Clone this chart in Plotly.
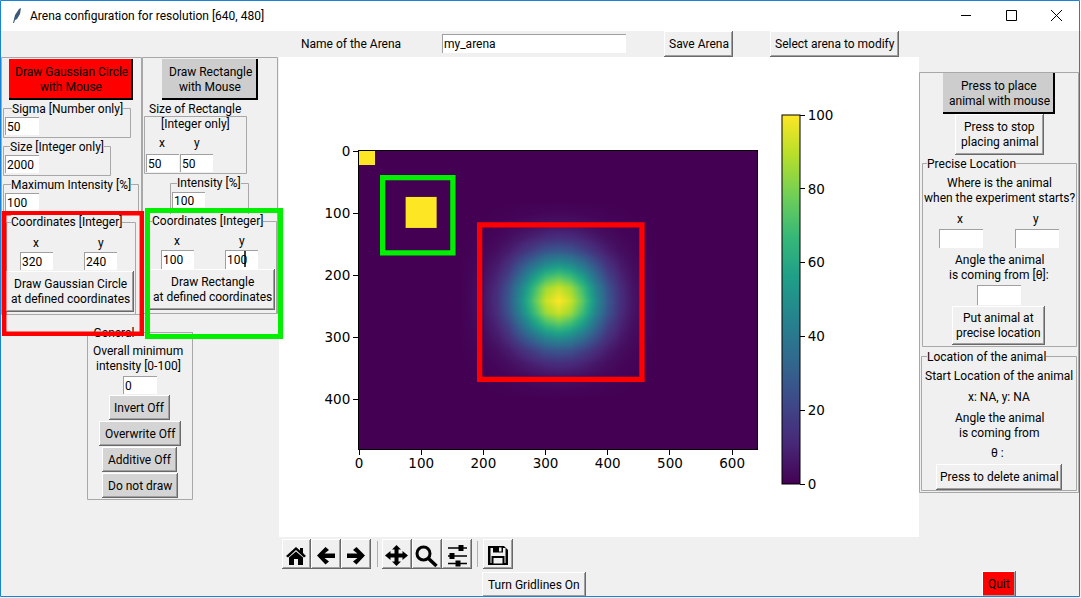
import plotly.graph_objects as go

W, H = 1081, 598
BG = "#f0f0f0"
UI_FONT = "Roboto"

x_ticks = [0, 100, 200, 300, 400, 500, 600]
y_ticks = [0, 100, 200, 300, 400]
bar_ticks = [0, 20, 40, 60, 80, 100]

arena_x = [0, 640]
arena_y = [0, 480]
arena_z = [[0]]

corner_x = [0, 25]
corner_y = [0, 23]
square_x = [75, 125]
square_y = [74, 124]
square_z = [[100]]

red_box_x = [194, 455]
red_box_y = [119, 368]
green_box_x = [38, 151]
green_box_y = [43, 164]

gauss_x = [160, 180, 200, 220, 240, 260, 280, 300, 320, 340, 360, 380, 400, 420, 440, 460, 480]
gauss_y = [80, 100, 120, 140, 160, 180, 200, 220, 240, 260, 280, 300, 320, 340, 360, 380, 400]
gauss_z = [
    [0, 0, 0, 0, 0, 0, 0, 0, 0, 0, 0, 0, 0, 0, 0, 0, 0],
    [0, 0, 0.1, 0.3, 0.5, 1, 1.4, 1.8, 2, 1.8, 1.4, 1, 0.5, 0.3, 0.1, 0, 0],
    [0, 0.1, 0.3, 0.8, 1.6, 2.7, 4.1, 5.2, 5.6, 5.2, 4.1, 2.7, 1.6, 0.8, 0.3, 0.1, 0],
    [0, 0.3, 0.8, 1.8, 3.8, 6.6, 9.8, 12.5, 13.5, 12.5, 9.8, 6.6, 3.8, 1.8, 0.8, 0.3, 0],
    [0, 0.5, 1.6, 3.8, 7.7, 13.5, 20, 26, 28, 26, 20, 13.5, 7.7, 3.8, 1.6, 0.5, 0],
    [0, 1, 2.7, 6.6, 13.5, 24, 35, 45, 49, 45, 35, 24, 13.5, 6.6, 2.7, 1, 0],
    [0, 1.4, 4.1, 9.8, 20, 35, 53, 67, 73, 67, 53, 35, 20, 9.8, 4.1, 1.4, 0],
    [0, 1.8, 5.2, 12.5, 26, 45, 67, 85, 92, 85, 67, 45, 26, 12.5, 5.2, 1.8, 0],
    [0, 2, 5.6, 13.5, 28, 49, 73, 92, 100, 92, 73, 49, 28, 13.5, 5.6, 2, 0],
    [0, 1.8, 5.2, 12.5, 26, 45, 67, 85, 92, 85, 67, 45, 26, 12.5, 5.2, 1.8, 0],
    [0, 1.4, 4.1, 9.8, 20, 35, 53, 67, 73, 67, 53, 35, 20, 9.8, 4.1, 1.4, 0],
    [0, 1, 2.7, 6.6, 13.5, 24, 35, 45, 49, 45, 35, 24, 13.5, 6.6, 2.7, 1, 0],
    [0, 0.5, 1.6, 3.8, 7.7, 13.5, 20, 26, 28, 26, 20, 13.5, 7.7, 3.8, 1.6, 0.5, 0],
    [0, 0.3, 0.8, 1.8, 3.8, 6.6, 9.8, 12.5, 13.5, 12.5, 9.8, 6.6, 3.8, 1.8, 0.8, 0.3, 0],
    [0, 0.1, 0.3, 0.8, 1.6, 2.7, 4.1, 5.2, 5.6, 5.2, 4.1, 2.7, 1.6, 0.8, 0.3, 0.1, 0],
    [0, 0, 0.1, 0.3, 0.5, 1, 1.4, 1.8, 2, 1.8, 1.4, 1, 0.5, 0.3, 0.1, 0, 0],
    [0, 0, 0, 0, 0, 0, 0, 0, 0, 0, 0, 0, 0, 0, 0, 0, 0],
]

shapes = []
notes = []


def px(x):
    return x / W


def py(y):
    return 1 - y / H


def rect(x0, y0, x1, y1, fill=None, line=None, width=1, layer="above"):
    shapes.append(dict(
        type="rect", xref="paper", yref="paper", layer=layer,
        x0=px(x0), x1=px(x1), y0=py(y0), y1=py(y1),
        fillcolor=fill if fill else "rgba(0,0,0,0)",
        line=dict(color=line if line else "rgba(0,0,0,0)", width=width if line else 0),
    ))


def seg(x0, y0, x1, y1, color="#000000", width=1):
    shapes.append(dict(
        type="line", xref="paper", yref="paper", layer="above",
        x0=px(x0), x1=px(x1), y0=py(y0), y1=py(y1),
        line=dict(color=color, width=width),
    ))


def poly(points, fill="#000000"):
    path = "M" + " L".join(f"{px(a):.5f},{py(b):.5f}" for a, b in points) + " Z"
    shapes.append(dict(
        type="path", xref="paper", yref="paper", layer="above", path=path,
        fillcolor=fill, line=dict(width=0),
    ))


def ring(x0, y0, x1, y1, color="#000000", width=3):
    shapes.append(dict(
        type="circle", xref="paper", yref="paper", layer="above",
        x0=px(x0), x1=px(x1), y0=py(y0), y1=py(y1),
        line=dict(color=color, width=width),
    ))


def label(x, y, text, anchor="center", size=12, bg=None, color="#000000", family=UI_FONT):
    notes.append(dict(
        x=px(x), y=py(y), xref="paper", yref="paper", text=text, showarrow=False,
        xanchor=anchor, yanchor="middle", align=anchor, borderpad=0, borderwidth=0,
        font=dict(family=family, size=size, color=color),
        bgcolor=bg if bg else "rgba(0,0,0,0)",
    ))


def group(x0, y0, x1, y1):
    # tk labelframe edge
    rect(x0 + 0.5, y0 + 0.5, x1 + 0.5, y1 + 0.5, line="#a8a8a8", width=1)


def button(x0, y0, x1, y1, lines=(), fill=BG, pressed=False):
    rect(x0, y0, x1, y1, fill=fill)
    if pressed:
        seg(x1 - 1, y0, x1 - 1, y1, "#000000", 2)
        seg(x0, y1 - 1, x1, y1 - 1, "#000000", 2)
    else:
        seg(x0 + 0.5, y0, x0 + 0.5, y1, "#ffffff", 1)
        seg(x0, y0 + 0.5, x1, y0 + 0.5, "#ffffff", 1)
        seg(x1 - 1.5, y0 + 1, x1 - 1.5, y1 - 1, "#a0a0a0", 1)
        seg(x0 + 1, y1 - 1.5, x1 - 1, y1 - 1.5, "#a0a0a0", 1)
        seg(x1 - 0.5, y0, x1 - 0.5, y1, "#696969", 1)
        seg(x0, y1 - 0.5, x1, y1 - 0.5, "#696969", 1)
    cy = (y0 + y1) / 2
    if len(lines) == 1:
        label((x0 + x1) / 2, cy, lines[0])
    elif len(lines) == 2:
        label((x0 + x1) / 2, cy - 7.5, lines[0])
        label((x0 + x1) / 2, cy + 7.5, lines[1])


def entry(x0, y0, x1, y1, text=""):
    rect(x0, y0, x1, y1, fill="#ffffff")
    seg(x0 + 0.5, y0, x0 + 0.5, y1, "#a0a0a0", 1)
    seg(x0, y0 + 0.5, x1, y0 + 0.5, "#a0a0a0", 1)
    if text:
        label(x0 + 2, (y0 + y1) / 2 + 0.5, text, anchor="left")


# window
rect(0, 31, W, H, fill=BG, layer="below")
rect(0, 0, W, 31, fill="#ffffff", layer="below")
rect(279, 57, 919, 537, fill="#ffffff", layer="below")
poly([(13, 23), (15, 15), (19, 9), (21, 8), (20, 14), (17, 19), (15, 20), (14, 23)], "#3c5a78")
label(30, 16, "Arena configuration for resolution [640, 480]", anchor="left")
seg(961, 15.5, 971, 15.5, "#000000", 1)
rect(1006.5, 10.5, 1016.5, 20.5, line="#000000", width=1)
seg(1051, 10, 1062, 21, "#000000", 1)
seg(1062, 10, 1051, 21, "#000000", 1)

# top row
label(351, 44, "Name of the Arena")
entry(442, 34, 626, 53, "my_arena")
button(664, 31, 733, 57, ["Save Arena"])
button(770, 31, 899, 57, ["Select arena to modify"])

# left columns
group(1, 57, 141, 314)
group(142, 57, 277, 313)
button(9, 59, 133, 100, ["Draw Gaussian Circle", "with Mouse"], fill="#ff0000", pressed=True)
button(162, 59, 258, 100, ["Draw Rectangle", "with Mouse"], fill="#cdcdcd", pressed=True)

group(3, 108, 130, 137)
label(67, 109, "Sigma [Number only]", bg=BG)
entry(5, 117, 39, 135, "50")
group(3, 146, 110, 175)
label(57, 147, "Size [Integer only]", bg=BG)
entry(5, 155, 39, 173, "2000")
group(3, 184, 138, 214)
label(71, 185, "Maximum Intensity [%]", bg=BG)
entry(5, 193, 39, 211, "100")

group(144, 116, 246, 173)
label(195, 109, "Size of Rectangle", bg=BG)
label(195, 124, "[Integer only]", bg=BG)
label(162, 143, "x")
label(197, 143, "y")
entry(146, 154, 179, 172, "50")
entry(180, 154, 213, 172, "50")
group(170, 183, 248, 214)
label(209, 183, "Intensity [%]", bg=BG)
entry(172, 192, 205, 210, "100")

group(6, 222, 135, 314)
label(66, 222, "Coordinates [Integer]", bg=BG)
label(36, 243, "x")
label(101, 243, "y")
entry(20, 252, 53, 270, "320")
entry(84, 252, 117, 270, "240")
button(6, 271, 134, 312, ["Draw Gaussian Circle", "at defined coordinates"])

group(148, 221, 276, 313)
label(207, 221, "Coordinates [Integer]", bg=BG)
label(177, 241, "x")
label(242, 241, "y")
entry(161, 250, 194, 269, "100")
entry(225, 250, 258, 269, "100")
seg(245, 251, 245, 267, "#000000", 1.5)
button(149, 269, 275, 310, ["Draw Rectangle", "at defined coordinates"])

# general box, top edge broken around its label
seg(87.5, 332.5, 94, 332.5, "#a8a8a8", 1)
seg(135, 332.5, 192.5, 332.5, "#a8a8a8", 1)
seg(87.5, 332, 87.5, 499.5, "#a8a8a8", 1)
seg(192.5, 332, 192.5, 499.5, "#a8a8a8", 1)
seg(87.5, 499.5, 192.5, 499.5, "#a8a8a8", 1)
label(138, 351, "Overall minimum")
label(138, 366, "intensity [0-100]")
entry(123, 376, 157, 394, "0")
button(109, 395, 170, 420, ["Invert Off"], fill="#d4d4d4")
button(99, 421, 181, 446, ["Overwrite Off"], fill="#d4d4d4")
button(102, 447, 177, 472, ["Additive Off"], fill="#d4d4d4")
button(102, 473, 178, 498, ["Do not draw"], fill="#d4d4d4")

# right panel
group(919, 72, 1078, 492)
button(943, 73, 1055, 114, ["Press to place", "animal with mouse"], fill="#cdcdcd", pressed=True)
button(955, 114, 1044, 155, ["Press to stop", "placing animal"])
group(922, 163, 1076, 346)
label(971, 164, "Precise Location", bg=BG)
label(999, 183, "Where is the animal")
label(999, 198, "when the experiment starts?")
label(960, 219, "x")
label(1036, 219, "y")
entry(939, 229, 983, 248)
entry(1015, 229, 1059, 248)
label(999, 260, "Angle the animal")
label(999, 275, "is coming from [θ]:")
entry(977, 285, 1021, 305)
button(952, 306, 1045, 345, ["Put animal at", "precise location"])
group(921, 356, 1076, 490)
label(987, 357, "Location of the animal", bg=BG)
label(999, 376, "Start Location of the animal")
label(999, 397, "x: NA, y: NA")
label(999, 418, "Angle the animal")
label(999, 433, "is coming from")
label(997, 453, "θ :")
button(936, 464, 1062, 490, ["Press to delete animal"])

# toolbar
for tx0, tx1 in [(282, 311), (311, 341), (341, 371), (382, 412), (412, 442), (442, 472), (483, 513)]:
    button(tx0, 539, tx1, 569)
seg(377.5, 541, 377.5, 567, "#b0b0b0", 1)
seg(477.5, 541, 477.5, 567, "#b0b0b0", 1)

poly([(286, 556), (296, 547), (300, 550.5), (300, 548), (303, 548), (303, 553), (306, 556),
      (304, 557.5), (296, 550), (288, 557.5)])
poly([(289, 557.5), (296, 551.5), (303, 557.5), (303, 565), (298, 565), (298, 559), (294, 559), (294, 565), (289, 565)])

arrow = [(317, 555.5), (325.5, 547), (329, 550), (324.5, 553.5), (335, 553.5), (335, 558),
         (324.5, 558), (329, 561.5), (325.5, 564.5)]
poly(arrow)
poly([(682 - a, b) for a, b in arrow])

poly([(396.5, 545), (401, 549.5), (398.5, 549.5), (398.5, 553.5), (402.5, 553.5), (402.5, 551), (408, 555.5),
      (402.5, 560), (402.5, 557.5), (398.5, 557.5), (398.5, 561.5), (401, 561.5), (396.5, 566),
      (392, 561.5), (394.5, 561.5), (394.5, 557.5), (390.5, 557.5), (390.5, 560), (385, 555.5),
      (390.5, 551), (390.5, 553.5), (394.5, 553.5), (394.5, 549.5), (392, 549.5)])

ring(417, 547, 430, 560, width=3)
seg(428.5, 558.5, 436.5, 566, "#000000", 3.5)

for sy, sx in [(548, 461), (556, 452), (563.5, 458)]:
    seg(448, sy, 467, sy, "#000000", 1.5)
    rect(sx - 2.5, sy - 3, sx + 2.5, sy + 3, fill="#000000")

poly([(488, 546), (504, 546), (508, 550), (508, 565), (488, 565)])
rect(490.5, 548, 505.5, 563, fill=BG)
rect(493, 546.5, 503, 552.5, fill="#000000")
rect(499, 547.5, 501.5, 551.5, fill=BG)
rect(491.5, 556, 504.5, 565, fill="#000000")
rect(493.5, 558, 502.5, 563.5, fill=BG)

button(482, 572, 586, 597, ["Turn Gridlines On"])
button(982, 571, 1016, 597, ["Quit"], fill="#ff0000")

# markers on the arena, then the big outlines over the controls
for bx, by, color in [(red_box_x, red_box_y, "#ff0000"), (green_box_x, green_box_y, "#00f000")]:
    shapes.append(dict(
        type="rect", xref="x", yref="y", layer="above",
        x0=bx[0], x1=bx[1], y0=by[0], y1=by[1],
        line=dict(color=color, width=5.3),
    ))
rect(4.2, 213.2, 141.8, 333.8, line="#ff0000", width=4.5)
rect(147.5, 210.5, 280.5, 336.5, line="#00f000", width=5)

# window border
rect(0.5, 0.5, W - 1.5, H - 1.5, line="#1883d7", width=1)

fig = go.Figure()

fig.add_trace(go.Heatmap(x=arena_x, y=arena_y, z=arena_z, coloraxis="coloraxis", hoverinfo="skip"))
fig.add_trace(go.Heatmap(x=gauss_x, y=gauss_y, z=gauss_z, zsmooth="best", coloraxis="coloraxis", hoverinfo="skip"))
fig.add_trace(go.Heatmap(x=corner_x, y=corner_y, z=square_z, coloraxis="coloraxis", hoverinfo="skip"))
fig.add_trace(go.Heatmap(x=square_x, y=square_y, z=square_z, coloraxis="coloraxis", hoverinfo="skip"))

# sits under the red outline, which cuts it in half as in the window
fig.add_trace(go.Scatter(
    x=[114], y=[334], text=["General"], mode="text", xaxis="x2", yaxis="y2",
    textfont=dict(family=UI_FONT, size=12, color="#000000"),
    showlegend=False, hoverinfo="skip",
))

axis_font = dict(family="DejaVu Sans", size=13.5, color="#000000")

fig.update_layout(
    width=W,
    height=H,
    margin=dict(l=0, r=0, t=0, b=0, autoexpand=False),
    paper_bgcolor=BG,
    plot_bgcolor="rgba(0,0,0,0)",
    showlegend=False,
    shapes=shapes,
    annotations=notes,
    coloraxis=dict(
        colorscale="Viridis",
        cmin=0,
        cmax=100,
        colorbar=dict(
            thickness=18,
            thicknessmode="pixels",
            len=369,
            lenmode="pixels",
            x=781.5 / W,
            xanchor="left",
            xpad=0,
            y=1 - 299.5 / H,
            yanchor="middle",
            ypad=0,
            tickvals=bar_ticks,
            ticks="outside",
            ticklen=5,
            tickcolor="#000000",
            tickfont=axis_font,
            outlinecolor="#000000",
            outlinewidth=1,
        ),
    ),
    xaxis=dict(
        domain=[359 / W, 757 / W],
        range=[0, 640],
        tickvals=x_ticks,
        ticks="outside",
        ticklen=5,
        ticklabelstandoff=-3,
        tickcolor="#000000",
        tickfont=axis_font,
        showgrid=False,
        zeroline=False,
        showline=True,
        linecolor="#000000",
        mirror=True,
    ),
    yaxis=dict(
        domain=[1 - 449 / H, 1 - 151 / H],
        range=[480, 0],
        tickvals=y_ticks,
        ticks="outside",
        ticklen=5,
        tickcolor="#000000",
        tickfont=axis_font,
        showgrid=False,
        zeroline=False,
        showline=True,
        linecolor="#000000",
        mirror=True,
    ),
    xaxis2=dict(domain=[0, 1], range=[0, W], visible=False, anchor="y2"),
    yaxis2=dict(domain=[0, 1], range=[H, 0], visible=False, anchor="x2"),
)

fig.write_html(
    "out.html",
    config=dict(displayModeBar=False),
    post_script="document.body.style.margin='0';document.body.style.overflow='hidden';",
)
